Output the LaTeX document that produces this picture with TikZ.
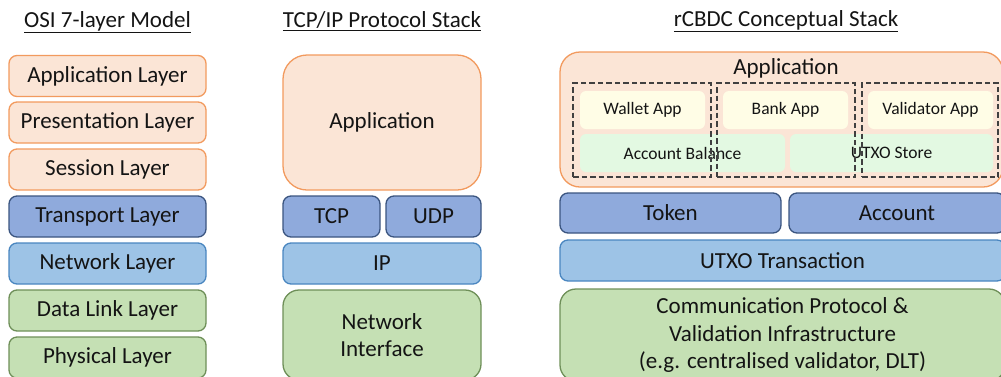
\documentclass[tikz,border=0pt]{standalone}
\usepackage{fontspec}
\setmainfont{Carlito}
\usetikzlibrary{positioning}
\definecolor{orfill}{HTML}{FBE5D6}
\definecolor{ordraw}{HTML}{F29A5E}
\definecolor{dbfill}{HTML}{8FAADC}
\definecolor{dbdraw}{HTML}{3B5580}
\definecolor{lbfill}{HTML}{9DC3E6}
\definecolor{lbdraw}{HTML}{4A86C0}
\definecolor{grfill}{HTML}{C5E0B4}
\definecolor{grdraw}{HTML}{6E8F58}
\definecolor{yefill}{HTML}{FFFDE6}
\definecolor{gnfill}{HTML}{E3F9E2}
\definecolor{txt}{HTML}{141414}
\tikzset{
  layer/.style={rectangle, rounded corners=8pt, line width=1.3pt, inner sep=0pt, text=txt,
    font=\fontsize{23}{27.5}\selectfont, align=center},
  orl/.style={layer, fill=orfill, draw=ordraw},
  dbl/.style={layer, fill=dbfill, draw=dbdraw},
  lbl/.style={layer, fill=lbfill, draw=lbdraw},
  grl/.style={layer, fill=grfill, draw=grdraw},
  inner/.style={rectangle, rounded corners=6pt, inner sep=0pt, text=txt, font=\fontsize{17.5}{20}\selectfont},
  dashbox/.style={rectangle, draw=black!75, dash pattern=on 5.5pt off 3pt, line width=1.3pt, inner sep=0pt},
  title/.style={font=\fontsize{23}{26}\selectfont, text=txt, inner sep=0pt}
}
\begin{document}
\begin{tikzpicture}[x=1pt,y=-1pt]
\useasboundingbox (0,0) rectangle (1001,376);
\clip (0,0) rectangle (1001,376);
% titles
\node[title] (t1) at (107.5,22) {\underline{OSI 7-layer Model}};
\node[title] (t2) at (382,21) {\underline{TCP/IP Protocol Stack}};
\node[title] (t3) at (786,21) {\underline{rCBDC Conceptual Stack}};
% OSI
\node[orl, minimum width=197pt, minimum height=41pt] (osi7) at (107.5,76) {Application Layer};
\node[orl, minimum width=197pt, minimum height=41pt] (osi6) at (107.5,122.5) {Presentation Layer};
\node[orl, minimum width=197pt, minimum height=41pt] (osi5) at (107.5,169.5) {Session Layer};
\node[dbl, minimum width=197pt, minimum height=41pt] (osi4) at (107.5,216.5) {Transport Layer};
\node[lbl, minimum width=197pt, minimum height=41pt] (osi3) at (107.5,263.5) {Network Layer};
\node[grl, minimum width=197pt, minimum height=41pt] (osi2) at (107.5,310.5) {Data Link Layer};
\node[grl, minimum width=197pt, minimum height=41pt] (osi1) at (107.5,357.5) {Physical Layer};
% TCP/IP
\node[orl, rounded corners=24pt, minimum width=198pt, minimum height=135pt] (tapp) at (382,122.5) {Application};
\node[dbl, minimum width=97pt, minimum height=41pt] (ttcp) at (331.5,216.5) {TCP};
\node[dbl, minimum width=95pt, minimum height=41pt] (tudp) at (433.5,216.5) {UDP};
\node[lbl, minimum width=198pt, minimum height=41pt] (tip) at (382,263.5) {IP};
\node[grl, rounded corners=16pt, minimum width=198pt, minimum height=90pt] (tni) at (382,335) {Network\\Interface};
% rCBDC
\node[orl, rounded corners=20pt, minimum width=443pt, minimum height=135pt] (rapp) at (781.5,119.5) {};
\node[title] (rapptitle) at (786,68) {Application};
\node[inner, fill=yefill, minimum width=125pt, minimum height=38pt] (wallet) at (642.5,110) {Wallet App};
\node[inner, fill=yefill, minimum width=125pt, minimum height=38pt] (bank) at (785.5,110) {Bank App};
\node[inner, fill=yefill, minimum width=125pt, minimum height=38pt] (valid) at (930.5,110) {Validator App};
\node[inner, fill=gnfill, minimum width=205pt, minimum height=38pt] (accbal) at (682.5,153) {Account Balance};
\node[inner, fill=gnfill, minimum width=203pt, minimum height=38pt] (utxos) at (891.5,153) {UTXO Store};
\node[dashbox, minimum width=138pt, minimum height=94pt] (d1) at (642,130) {};
\node[dashbox, minimum width=138pt, minimum height=94pt] (d2) at (786,130) {};
\node[dashbox, minimum width=136pt, minimum height=94pt] (d3) at (930,130) {};
\node[dbl, minimum width=221pt, minimum height=40pt] (token) at (670.5,213) {Token};
\node[dbl, minimum width=216pt, minimum height=40pt] (account) at (897,213) {Account};
\node[lbl, minimum width=445pt, minimum height=41pt] (utxot) at (782.5,260.5) {UTXO Transaction};
\node[grl, rounded corners=16pt, minimum width=445pt, minimum height=92pt] (comm) at (782.5,335) {Communication Protocol \&\\Validation Infrastructure\\(e.g. centralised validator, DLT)};
\end{tikzpicture}
\end{document}
